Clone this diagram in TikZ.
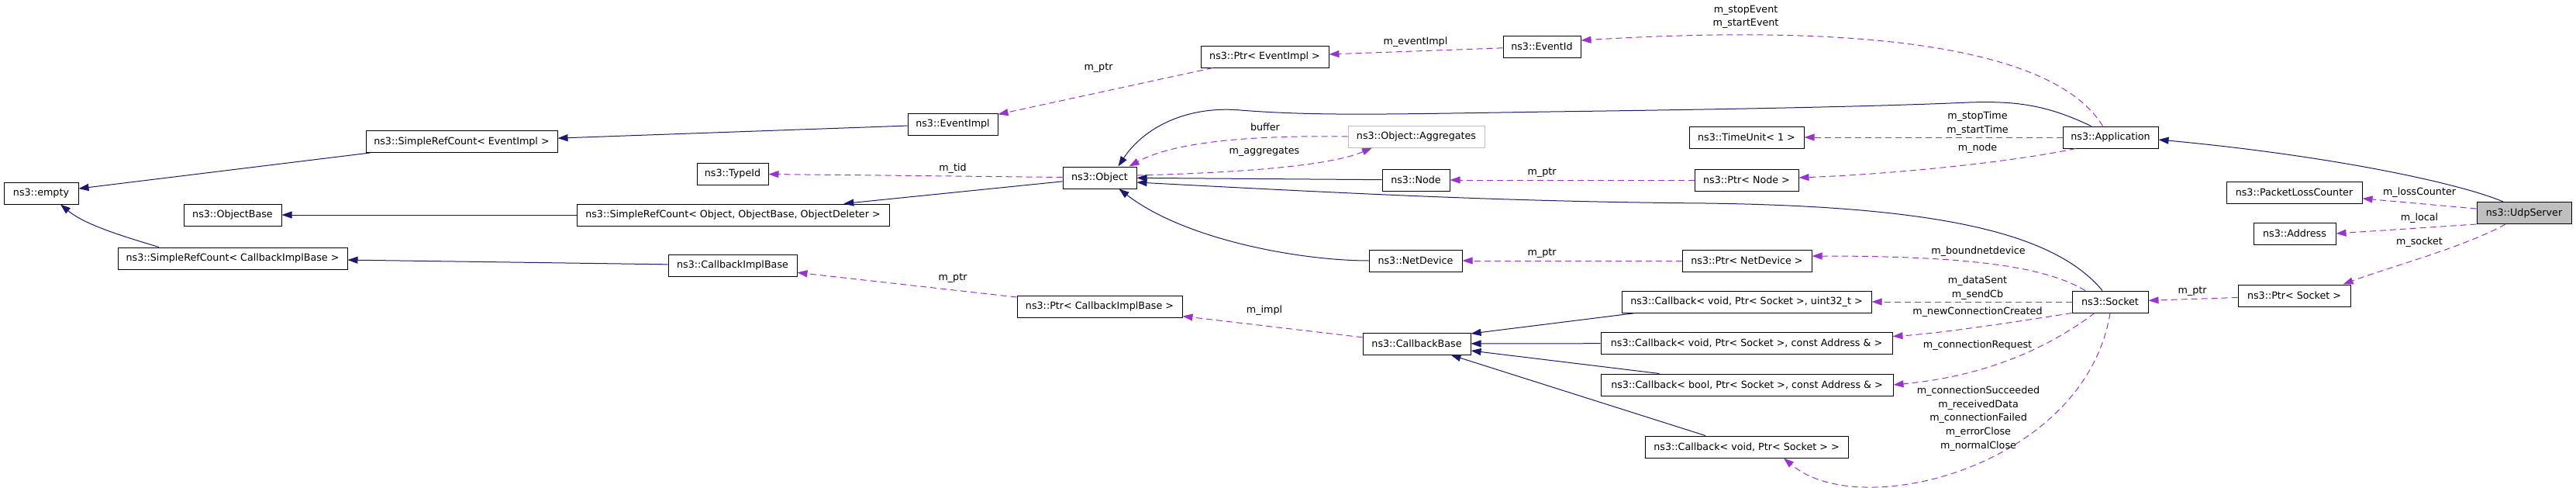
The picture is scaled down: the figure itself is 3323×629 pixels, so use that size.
\documentclass[tikz,border=0pt]{standalone}
\usepackage{fontspec}
\setmainfont{DejaVu Sans}
\usepackage{tikz}
\usetikzlibrary{arrows.meta}
\definecolor{navy}{HTML}{191970}
\definecolor{orchid}{HTML}{9A32CD}
\definecolor{boxgray}{HTML}{BFBFBF}
\tikzstyle{cls}=[rectangle,draw=black,line width=1pt,inner sep=0pt,minimum height=28pt]
\tikzstyle{ghost}=[cls,draw=boxgray]
\tikzstyle{focus}=[cls,fill=boxgray]
\tikzstyle{inherit}=[->,draw=navy,line width=1pt]
\tikzstyle{member}=[->,draw=orchid,line width=1pt,dash pattern=on 8pt off 5pt]
\tikzstyle{lbl}=[inner sep=0pt,align=center]
\tikzset{every picture/.style={
    x=1pt,y=-1pt,
    >={Triangle[length=13pt,width=9pt]},
    font=\fontsize{12.7}{17.7}\selectfont
  }
}
\begin{document}
\begin{tikzpicture}
  \useasboundingbox (0,0) rectangle (3323,629);
  \node[cls, minimum width=96pt] at (53,249) (empty) {ns3::empty};
  \node[cls, minimum width=247pt] at (595.5,182.5) (srcev) {ns3::SimpleRefCount< EventImpl >};
  \node[cls, minimum width=126pt] at (300,277) (objbase) {ns3::ObjectBase};
  \node[cls, minimum width=296pt] at (300,333) (srccb) {ns3::SimpleRefCount< CallbackImplBase >};
  \node[cls, minimum width=116pt] at (1229,160) (evimpl) {ns3::EventImpl};
  \node[cls, minimum width=92pt] at (945,224) (typeid) {ns3::TypeId};
  \node[cls, minimum width=403pt] at (945.5,277) (srcobj) {ns3::SimpleRefCount< Object, ObjectBase, ObjectDeleter >};
  \node[cls, minimum width=166pt] at (945,342) (cbimpl) {ns3::CallbackImplBase};
  \node[cls, minimum width=165pt] at (1631.5,73) (ptrev) {ns3::Ptr< EventImpl >};
  \node[cls, minimum width=100pt] at (1989,60) (evid) {ns3::EventId};
  \node[ghost, minimum width=176pt] at (1827,176) (aggr) {ns3::Object::Aggregates};
  \node[cls, minimum width=95pt] at (1418.5,229) (object) {ns3::Object};
  \node[cls, minimum width=87pt] at (1826.5,232) (nnode) {ns3::Node};
  \node[cls, minimum width=213pt] at (1418.5,395) (ptrcb) {ns3::Ptr< CallbackImplBase >};
  \node[cls, minimum width=148pt] at (2253,177) (timeunit) {ns3::TimeUnit< 1 >};
  \node[cls, minimum width=134pt] at (2253,232) (ptrnode) {ns3::Ptr< Node >};
  \node[cls, minimum width=123pt] at (2722.5,177) (app) {ns3::Application};
  \node[cls, minimum width=120pt] at (1826,336) (netdev) {ns3::NetDevice};
  \node[cls, minimum width=167pt] at (2253.5,336) (ptrnetdev) {ns3::Ptr< NetDevice >};
  \node[cls, minimum width=322pt] at (2253,389) (cbuint) {ns3::Callback< void, Ptr< Socket >, uint32\_t >};
  \node[cls, minimum width=139pt] at (1827.5,443) (cbbase) {ns3::CallbackBase};
  \node[cls, minimum width=376pt] at (2253,442.5) (cbaddr) {ns3::Callback< void, Ptr< Socket >, const Address \& >};
  \node[cls, minimum width=377pt] at (2253.5,496) (cbbool) {ns3::Callback< bool, Ptr< Socket >, const Address \& >};
  \node[cls, minimum width=262pt] at (2253,576) (cbvoid) {ns3::Callback< void, Ptr< Socket > >};
  \node[cls, minimum width=98pt] at (2722,389) (socket) {ns3::Socket};
  \node[cls, minimum width=175pt] at (2959.5,248) (plc) {ns3::PacketLossCounter};
  \node[cls, minimum width=106pt] at (2960,301) (addr) {ns3::Address};
  \node[cls, minimum width=145pt] at (2959.5,381) (ptrsock) {ns3::Ptr< Socket >};
  \node[focus, minimum width=122pt] at (3256,274.5) (udp) {ns3::UdpServer};
  \draw[inherit] (srcev)--(empty);
  \draw[inherit] ([xshift=-95pt]srccb.north) .. controls (160,305) and (110,290) .. ([xshift=25pt]empty.south);
  \draw[inherit] (srcobj)--(objbase);
  \draw[inherit] (cbimpl)--(srccb);
  \draw[inherit] (evimpl)--(srcev);
  \draw[inherit] (object)--(srcobj);
  \draw[inherit] (nnode)--(object);
  \draw[inherit] (netdev.west) .. controls (1680,336) and (1530,310) .. ([xshift=25pt]object.south);
  \draw[inherit] ([xshift=-25pt]app.north) .. controls (2640,135) and (2600,130) .. (2540,132)
    .. controls (2450,136) and (2300,140) .. (2000,144)
    .. controls (1800,147) and (1700,150) .. (1600,142)
    .. controls (1530,136) and (1475,165) .. ([xshift=24pt]object.north);
  \draw[inherit] ([xshift=-10pt]socket.north) .. controls (2650,300) and (2500,266) .. (2200,262)
    .. controls (1950,260) and (1750,250) .. ([yshift=-6pt]object.east);
  \draw[inherit] ([xshift=-27pt]udp.north) .. controls (3170,235) and (3000,200) .. ([yshift=-3pt]app.east);
  \draw[inherit] ([xshift=-143pt]cbuint.south)--([yshift=13pt]cbbase.east);
  \draw[inherit] (cbaddr)--(cbbase);
  \draw[inherit] ([xshift=-113pt]cbbool.north)--([yshift=-9pt]cbbase.east);
  \draw[inherit] ([xshift=-53pt]cbvoid.north)--([xshift=44pt]cbbase.south);
  \draw[member] (ptrev)--(evimpl);
  \draw[member] (evid)--(ptrev);
  \draw[member] ([xshift=-10pt]app.north) .. controls (2650,60) and (2400,30) .. ([yshift=8pt]evid.east);
  \draw[member] (object)--(typeid);
  \draw[member] (aggr.west) .. controls (1600,174) and (1510,185) .. ([xshift=38pt]object.north);
  \draw[member] ([yshift=3pt]object.east) .. controls (1620,222) and (1720,212) .. ([xshift=-57pt]aggr.south);
  \draw[member] (app)--(timeunit);
  \draw[member] ([xshift=-45pt]app.south) .. controls (2600,208) and (2450,224) .. ([yshift=3pt]ptrnode.east);
  \draw[member] (ptrnode)--(nnode);
  \draw[member] (ptrnetdev)--(netdev);
  \draw[member] ([xshift=-32pt]socket.north) .. controls (2640,345) and (2550,330) .. ([yshift=6pt]ptrnetdev.east);
  \draw[member] (socket)--(cbuint);
  \draw[member] (socket.south west) .. controls (2600,415) and (2500,430) .. ([yshift=9pt]cbaddr.east);
  \draw[member] ([xshift=-20pt]socket.south) .. controls (2640,450) and (2560,485) .. (cbbool.east);
  \draw[member] (socket.south) .. controls (2690,600) and (2400,675) .. ([xshift=48pt]cbvoid.south);
  \draw[member] (ptrcb)--(cbimpl);
  \draw[member] (cbbase)--(ptrcb);
  \draw[member] (ptrsock)--(socket);
  \draw[member] (udp)--(plc);
  \draw[member] (udp.south west)--(addr.east);
  \draw[member] ([xshift=-24pt]udp.south) .. controls (3180,318) and (3080,345) .. ([xshift=63pt]ptrsock.north);
  \node[lbl] at (1417,88) (lptrev) {m\_ptr};
  \node[lbl] at (1826,54) (levimpl) {m\_eventImpl};
  \node[lbl] at (2252,22) (levent) {m\_stopEvent\\m\_startEvent};
  \node[lbl] at (1632,164) (lbuffer) {buffer};
  \node[lbl] at (1631,196) (laggr) {m\_aggregates};
  \node[lbl] at (1229,217) (ltid) {m\_tid};
  \node[lbl] at (2551,159.5) (ltime) {m\_stopTime\\m\_startTime};
  \node[lbl] at (2551,191) (lnode) {m\_node};
  \node[lbl] at (1989,223) (lptrnode) {m\_ptr};
  \node[lbl] at (1989,327) (lptrnetdev) {m\_ptr};
  \node[lbl] at (2552,324) (lbound) {m\_boundnetdevice};
  \node[lbl] at (2551,371) (lsent) {m\_dataSent\\m\_sendCb};
  \node[lbl] at (2551,402) (lnewconn) {m\_newConnectionCreated};
  \node[lbl] at (2551,445) (lconnreq) {m\_connectionRequest};
  \node[lbl] at (2552,539.5) (lclose) {m\_connectionSucceeded\\m\_receivedData\\m\_connectionFailed\\m\_errorClose\\m\_normalClose};
  \node[lbl] at (1229,359) (lptrcb) {m\_ptr};
  \node[lbl] at (1631,400) (limpl) {m\_impl};
  \node[lbl] at (2828,376) (lptrsock) {m\_ptr};
  \node[lbl] at (3121,248) (lloss) {m\_lossCounter};
  \node[lbl] at (3121,281) (llocal) {m\_local};
  \node[lbl] at (3121,312) (lsocket) {m\_socket};
\end{tikzpicture}
\end{document}
